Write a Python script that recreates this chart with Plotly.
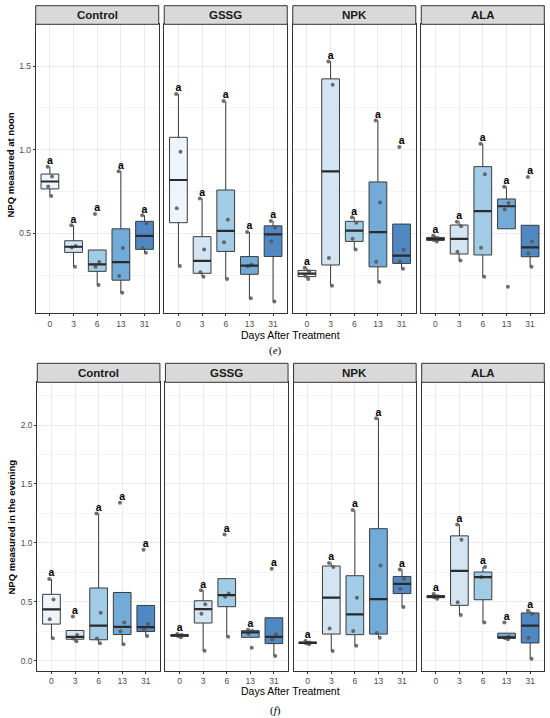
import numpy as np
import plotly.graph_objects as go

# categories
days = ['0', '3', '6', '13', '31']
treatments = ['Control', 'GSSG', 'NPK', 'ALA']
letters = ['a', 'a', 'a', 'a', 'a']

# NPQ at noon, one list of replicates per day (0, 3, 6, 13, 31)
noon_control = [[0.723, 0.78, 0.84, 0.898], [0.30, 0.415, 0.425, 0.548], [0.191, 0.30, 0.329, 0.615],
                [0.145, 0.245, 0.412, 0.872], [0.384, 0.411, 0.56, 0.608]]
noon_gssg = [[0.305, 0.65, 0.988, 1.333], [0.241, 0.268, 0.404, 0.709], [0.227, 0.447, 0.582, 1.291],
             [0.112, 0.303, 0.312, 0.508], [0.092, 0.452, 0.535, 0.574]]
noon_npk = [[0.227, 0.246, 0.273, 0.295], [0.187, 0.352, 1.389, 1.528], [0.404, 0.468, 0.564, 0.596],
            [0.209, 0.33, 0.685, 1.175], [0.289, 0.331, 0.402, 1.016]]
noon_ala = [[0.452, 0.46, 0.472, 0.486], [0.337, 0.39, 0.543, 0.57], [0.241, 0.414, 0.853, 1.036],
            [0.181, 0.643, 0.681, 0.779], [0.301, 0.38, 0.452, 0.837]]

# NPQ in the evening
eve_control = [[0.19, 0.351, 0.52, 0.693], [0.164, 0.188, 0.217, 0.375], [0.147, 0.188, 0.406, 1.25],
               [0.139, 0.25, 0.325, 1.341], [0.209, 0.26, 0.311, 0.942]]
eve_gssg = [[0.198, 0.21, 0.218, 0.226], [0.085, 0.398, 0.479, 0.597], [0.204, 0.543, 0.571, 1.072],
            [0.11, 0.228, 0.252, 0.262], [0.04, 0.18, 0.225, 0.781]]
eve_npk = [[0.139, 0.148, 0.155, 0.167], [0.082, 0.274, 0.795, 0.829], [0.127, 0.252, 0.535, 1.279],
           [0.195, 0.236, 0.808, 2.057], [0.455, 0.608, 0.695, 0.775]]
eve_ala = [[0.526, 0.538, 0.548, 0.566], [0.388, 0.497, 1.027, 1.157], [0.325, 0.71, 0.795],
           [0.181, 0.193, 0.203, 0.325], [0.017, 0.195, 0.399, 0.424]]

day_colors = ['#EEF4FB', '#D3E4F3', '#A2CCE6', '#73ABD8', '#5088C4']

W, H = 550, 718
FONT = 'Liberation Sans, Arial, sans-serif'


def fx(v):
    return v / W


def fy(v):
    return 1 - v / H


rows = [
    dict(groups=[noon_control, noon_gssg, noon_npk, noon_ala], left=35.7, strip_top=5.7, top=24.3,
         bottom=313.3, yrange=[0.022, 1.75], ytitle='NPQ measured at noon', ytitle_y=165,
         xtitle_y=335, cap='(<i>e</i>)', cap_y=351),
    dict(groups=[eve_control, eve_gssg, eve_npk, eve_ala], left=37.3, strip_top=363.3, top=382.3,
         bottom=670.7, yrange=[-0.085, 2.363], ytitle='NPQ measured in the evening', ytitle_y=527,
         xtitle_y=691, cap='(<i>f</i>)', cap_y=710),
]

fig = go.Figure()
layout = {}
shapes = []
annotations = []
right = 544.3
gap = 5.5
bw = 0.75

k = 0
for row in rows:
    pw = (right - row['left'] - 3 * gap) / 4
    for t, name in enumerate(treatments):
        k += 1
        xa = 'x' if k == 1 else 'x%d' % k
        ya = 'y' if k == 1 else 'y%d' % k
        x0 = row['left'] + t * (pw + gap)
        x1 = x0 + pw
        groups = row['groups'][t]
        for i in range(len(days)):
            vals = np.array(groups[i])
            q1, med, q3 = np.percentile(vals, [25, 50, 75])
            iqr = q3 - q1
            lo = min(vals[vals >= q1 - 1.5 * iqr].min(), q1)
            hi = max(vals[vals <= q3 + 1.5 * iqr].max(), q3)
            fig.add_trace(go.Box(x=[i], q1=[q1], median=[med], q3=[q3], lowerfence=[lo], upperfence=[hi],
                                 width=bw, whiskerwidth=0, fillcolor=day_colors[i],
                                 line=dict(color='#3a3a3a', width=1), boxpoints=False,
                                 xaxis=xa, yaxis=ya, showlegend=False, hoverinfo='skip'))
            # thicker median like ggplot
            fig.add_trace(go.Scatter(x=[i - bw / 2, i + bw / 2], y=[med, med], mode='lines',
                                     line=dict(color='#2b2b2b', width=2.2),
                                     xaxis=xa, yaxis=ya, showlegend=False, hoverinfo='skip'))
            # raw points, jittered by the library
            fig.add_trace(go.Box(x=[i] * len(vals), y=vals, width=bw, boxpoints='all', jitter=0.3,
                                 pointpos=0, fillcolor='rgba(0,0,0,0)', whiskerwidth=0,
                                 line=dict(color='rgba(0,0,0,0)', width=0),
                                 marker=dict(color='rgba(85,85,85,0.85)', size=4),
                                 xaxis=xa, yaxis=ya, showlegend=False, hoverinfo='skip'))
            fig.add_trace(go.Scatter(x=[i], y=[vals.max()], mode='text', text=[letters[i]],
                                     textposition='top center',
                                     textfont=dict(size=10.5, color='black', family=FONT, weight='bold'),
                                     xaxis=xa, yaxis=ya, showlegend=False, hoverinfo='skip'))

        first = t == 0
        layout['xaxis' if k == 1 else 'xaxis%d' % k] = dict(
            domain=[fx(x0), fx(x1)], anchor=ya, range=[-0.6, 4.6],
            tickmode='array', tickvals=list(range(len(days))), ticktext=days,
            showgrid=True, gridcolor='#EBEBEB', gridwidth=1, zeroline=False,
            showline=True, mirror=True, linecolor='#333333', linewidth=1,
            ticks='outside', ticklen=2, tickcolor='#333333',
            tickfont=dict(size=8.5, color='#4D4D4D'))
        layout['yaxis' if k == 1 else 'yaxis%d' % k] = dict(
            domain=[fy(row['bottom']), fy(row['top'])], anchor=xa, range=row['yrange'],
            tick0=0, dtick=0.5, tickformat='.1f',
            showgrid=True, gridcolor='#EBEBEB', gridwidth=1, zeroline=False,
            minor=dict(dtick=0.25, tick0=0, showgrid=True, gridcolor='#F4F4F4', gridwidth=0.6),
            showline=True, mirror=True, linecolor='#333333', linewidth=1,
            showticklabels=first, ticks='outside' if first else '', ticklen=2, tickcolor='#333333',
            tickfont=dict(size=8.5, color='#4D4D4D'))

        # facet strip
        shapes.append(dict(type='rect', xref='paper', yref='paper', x0=fx(x0), x1=fx(x1),
                           y0=fy(row['top']), y1=fy(row['strip_top']), fillcolor='#D9D9D9',
                           line=dict(color='#333333', width=1), layer='above'))
        annotations.append(dict(text='<b>%s</b>' % name, xref='paper', yref='paper',
                                x=fx((x0 + x1) / 2), y=fy((row['top'] + row['strip_top']) / 2),
                                showarrow=False, font=dict(size=11.5, color='#1A1A1A'),
                                xanchor='center', yanchor='middle'))

    annotations.append(dict(text='<b>%s</b>' % row['ytitle'], xref='paper', yref='paper',
                            x=fx(10.5), y=fy(row['ytitle_y']), textangle=-90, showarrow=False,
                            font=dict(size=9.5, color='black'), xanchor='center', yanchor='middle'))
    annotations.append(dict(text='Days After Treatment', xref='paper', yref='paper',
                            x=fx(290), y=fy(row['xtitle_y']), showarrow=False,
                            font=dict(size=10.5, color='black'), xanchor='center', yanchor='middle'))
    annotations.append(dict(text=row['cap'], xref='paper', yref='paper',
                            x=fx(275), y=fy(row['cap_y']), showarrow=False,
                            font=dict(size=11, color='black', family='Liberation Serif, serif'),
                            xanchor='center', yanchor='middle'))

fig.update_layout(width=W, height=H, margin=dict(l=0, r=0, t=0, b=0),
                  paper_bgcolor='white', plot_bgcolor='white', boxmode='overlay',
                  font=dict(family=FONT), shapes=shapes, annotations=annotations, **layout)

# drop the default page margin so the figure sits at the window's corner
fig.write_html("out.html", config={'displayModeBar': False},
               post_script="document.body.style.margin='0';document.body.style.overflow='hidden';")
